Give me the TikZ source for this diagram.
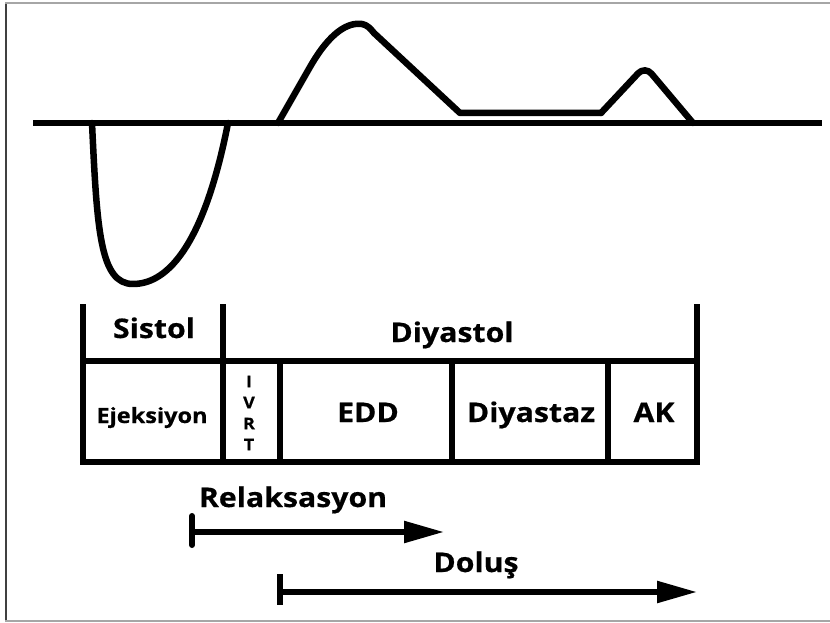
\documentclass[tikz,border=0pt]{standalone}
\usepackage{fontspec}
\newfontfamily\lab[FakeStretch=1.12, FakeBold=0.6]{Open Sans}
\usetikzlibrary{arrows.meta}
\tikzset{
  wave/.style={line width=6.5pt, line join=round, line cap=round},
  grid/.style={line width=6pt, line cap=rect},
  lbl/.style={font=\lab\bfseries\fontsize{27}{30}\selectfont, inner sep=0pt, anchor=base},
  small/.style={font=\lab\bfseries\fontsize{21}{24}\selectfont, inner sep=0pt, anchor=base},
  tiny/.style={font=\lab\bfseries\fontsize{16}{21}\selectfont, inner sep=0pt, align=center},
  span/.style={line width=5.5pt, -{Triangle[length=40pt,width=21pt]}},
  barend/.style={line width=6pt},
  frame/.style={line width=1.6pt, draw=gray!70}
}
\begin{document}
\begin{tikzpicture}[x=1pt,y=-1pt]
\useasboundingbox (0,0) rectangle (830,623);
% frame
\draw[frame] (830,3) -- (6,3) -- (6,621) -- (830,621);
\draw[line width=1.6pt, black!75] (6,4) -- (6,620);
% baseline
\coordinate (b0) at (33,123);
\coordinate (b1) at (822,123);
\draw[line width=6pt] (b0) -- (b1);
% negative lobe
\draw[wave] (92,123) .. controls (97,230) and (100,284) .. (133,284)
  .. controls (170,284) and (205,240) .. (228,123);
% positive lobes
\draw[wave] (278,123) -- (310,67) .. controls (330,32) and (348,22) .. (362,24)
  .. controls (367,25) and (370,28) .. (374,33) -- (460,113) -- (601,113);
\draw[wave, rounded corners=10pt] (601,113) -- (645,66) -- (693,123);
% table
\draw[grid] (83,307) -- (83,462) -- (697,462) -- (697,307);
\draw[grid] (83,361) -- (697,361);
\draw[grid] (223,307) -- (223,462);
\draw[grid] (280,361) -- (280,462);
\draw[grid] (452,361) -- (452,462);
\draw[grid] (608,361) -- (608,462);
% labels
\node[lbl] (sis) at (154,338) {Sistol};
\node[lbl] (dia) at (452,342) {Diyastol};
\node[small] (eje) at (152,423) {Ejeksiyon};
\node[tiny] (ivrt) at (249,413) {I\\V\\R\\T};
\node[lbl] (edd) at (368,422) {EDD};
\node[lbl] (dst) at (531,422) {Diyastaz};
\node[lbl] (ak) at (654,422) {AK};
% relaxation arrow
\node[lbl] (rel) at (293,507) {Relaksasyon};
\coordinate (r0) at (192,532);
\coordinate (r1) at (444,532);
\coordinate (r0t) at (192,516);
\coordinate (r0b) at (192,545);
\draw[barend, line cap=round] (r0t) -- (r0b);
\draw[span] (r0) -- (r1);
% filling arrow
\node[lbl] (dol) at (476,572) {Doluş};
\coordinate (d0) at (280,592);
\coordinate (d1) at (697,592);
\coordinate (d0t) at (280,574);
\coordinate (d0b) at (280,605);
\draw[barend] (d0t) -- (d0b);
\draw[span] (d0) -- (d1);
\end{tikzpicture}
\end{document}
